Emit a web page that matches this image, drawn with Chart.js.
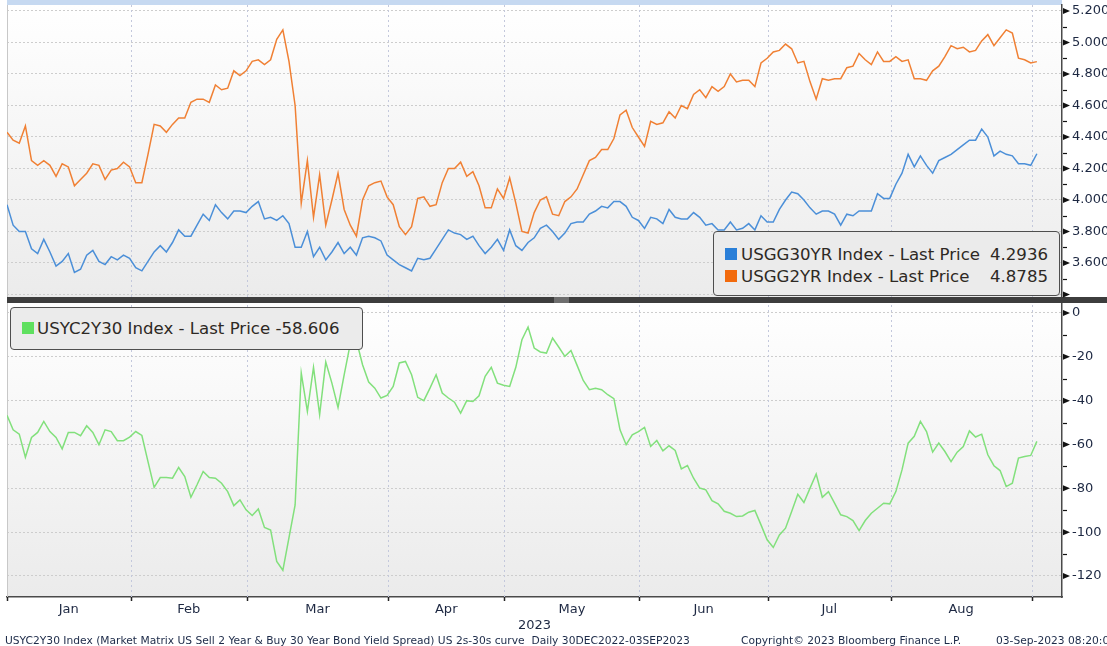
<!DOCTYPE html>
<html>
<head>
<meta charset="utf-8">
<title>USGG30YR / USGG2YR / USYC2Y30</title>
<script src="https://cdn.jsdelivr.net/npm/chart.js@4.4.0/dist/chart.umd.min.js"></script>
<style>
  body { margin: 0; background: #ffffff; }
  #wrap { position: relative; width: 1107px; height: 646px; overflow: hidden; font-family: "DejaVu Sans", sans-serif; }
  #chart { position: absolute; left: 0; top: 0; }
  .box { position: absolute; box-sizing: border-box; background: #ebebeb; border: 1.5px solid #4e4e4e; border-radius: 4px; }
  .sq { position: absolute; width: 12px; height: 12px; }
  .txt { position: absolute; font-size: 16.6px; line-height: 17px; color: #2e2924; white-space: pre; }
  .foot { position: absolute; top: 635px; font-size: 10.7px; line-height: 11px; color: #1c2a48; white-space: pre; }
</style>
</head>
<body>
<div id="wrap">
  <canvas id="chart" width="1107" height="646"></canvas>

  <div class="box" style="left:713px; top:231px; width:347px; height:65px;"></div>
  <div class="sq" style="left:725px; top:248px; background:#2a7fd8;"></div>
  <div class="txt" style="left:741px; top:246px;">USGG30YR Index - Last Price</div>
  <div class="txt" style="right:59px; top:246px;">4.2936</div>
  <div class="sq" style="left:725px; top:270px; background:#f26a0c;"></div>
  <div class="txt" style="left:741px; top:268px;">USGG2YR Index - Last Price</div>
  <div class="txt" style="right:59px; top:268px;">4.8785</div>

  <div class="box" style="left:10px; top:307px; width:353px; height:43px;"></div>
  <div class="sq" style="left:22px; top:322px; background:#5fe05f;"></div>
  <div class="txt" style="left:37px; top:320px;">USYC2Y30 Index - Last Price -58.606</div>

  <div class="foot" style="left:5px;">USYC2Y30 Index (Market Matrix US Sell 2 Year &amp; Buy 30 Year Bond Yield Spread) US 2s-30s curve  Daily 30DEC2022-03SEP2023</div>
  <div class="foot" style="left:741px;">Copyright© 2023 Bloomberg Finance L.P.</div>
  <div class="foot" style="left:996px;">03-Sep-2023 08:20:00</div>
</div>

<script>
// daily trading days, 30 Dec 2022 .. 01 Sep 2023 (index 0 = 30 Dec)
var monthNames = ['Jan', 'Feb', 'Mar', 'Apr', 'May', 'Jun', 'Jul', 'Aug'];
// index of first trading day of Feb .. Sep
var monthStarts = [21, 40, 63, 82, 104, 125, 145, 168];

var topTicks = [3.4, 3.6, 3.8, 4.0, 4.2, 4.4, 4.6, 4.8, 5.0, 5.2];
var botTicks = [0, -20, -40, -60, -80, -100, -120];

// USGG30YR Index
var usgg30 = [
  3.97, 3.84, 3.80, 3.80, 3.69, 3.66, 3.75, 3.67, 3.58, 3.61,
  3.66, 3.54, 3.56, 3.65, 3.68, 3.61, 3.59, 3.64, 3.62, 3.65,
  3.63, 3.57, 3.55, 3.61, 3.67, 3.71, 3.67, 3.73, 3.81, 3.77,
  3.77, 3.84, 3.91, 3.87, 3.97, 3.92, 3.88, 3.93, 3.93, 3.92,
  3.96, 3.99, 3.88, 3.89, 3.87, 3.90, 3.85, 3.70, 3.70, 3.80,
  3.64, 3.70, 3.62, 3.67, 3.73, 3.66, 3.70, 3.65, 3.76, 3.77,
  3.76, 3.74, 3.65, 3.62, 3.59, 3.57, 3.55, 3.63, 3.62, 3.63,
  3.69, 3.75, 3.81, 3.79, 3.78, 3.75, 3.77, 3.71, 3.66, 3.70,
  3.75, 3.68, 3.81, 3.71, 3.68, 3.73, 3.76, 3.82, 3.84, 3.80,
  3.75, 3.79, 3.85, 3.86, 3.86, 3.91, 3.93, 3.96, 3.95, 3.99,
  3.99, 3.96, 3.89, 3.87, 3.82, 3.89, 3.88, 3.85, 3.94, 3.89,
  3.88, 3.88, 3.92, 3.89, 3.84, 3.85, 3.81, 3.81, 3.86, 3.81,
  3.82, 3.85, 3.81, 3.90, 3.86, 3.86, 3.94, 4.00, 4.05, 4.04,
  4.00, 3.95, 3.91, 3.93, 3.93, 3.91, 3.84, 3.91, 3.90, 3.93,
  3.93, 3.93, 4.04, 4.01, 4.01, 4.10, 4.17, 4.29, 4.21, 4.28,
  4.22, 4.17, 4.25, 4.27, 4.29, 4.32, 4.35, 4.38, 4.38, 4.45,
  4.40, 4.28, 4.31, 4.29, 4.28, 4.23, 4.23, 4.22, 4.2936
];

// USGG2YR Index
var usgg2 = [
  4.43, 4.38, 4.36, 4.47, 4.25, 4.22, 4.25, 4.22, 4.15, 4.23,
  4.21, 4.09, 4.13, 4.17, 4.23, 4.22, 4.13, 4.19, 4.20, 4.24,
  4.21, 4.11, 4.11, 4.29, 4.48, 4.47, 4.43, 4.48, 4.52, 4.52,
  4.62, 4.64, 4.64, 4.62, 4.73, 4.70, 4.71, 4.82, 4.79, 4.82,
  4.88, 4.89, 4.86, 4.89, 5.02, 5.08, 4.88, 4.60, 3.98, 4.25,
  3.89, 4.16, 3.84, 4.00, 4.17, 3.94, 3.84, 3.77, 4.00, 4.09,
  4.11, 4.12, 4.02, 3.97, 3.83, 3.78, 3.83, 4.01, 4.02, 3.96,
  3.97, 4.11, 4.20, 4.20, 4.24, 4.15, 4.18, 4.09, 3.95, 3.95,
  4.07, 4.01, 4.14, 3.98, 3.80, 3.79, 3.92, 4.00, 4.02, 3.91,
  3.90, 3.99, 4.02, 4.07, 4.16, 4.25, 4.27, 4.32, 4.32, 4.39,
  4.54, 4.57, 4.46, 4.40, 4.34, 4.50, 4.48, 4.49, 4.56, 4.52,
  4.60, 4.58, 4.67, 4.70, 4.65, 4.72, 4.69, 4.72, 4.80, 4.75,
  4.76, 4.76, 4.72, 4.87, 4.90, 4.94, 4.95, 4.99, 4.96, 4.87,
  4.88, 4.75, 4.64, 4.77, 4.76, 4.77, 4.77, 4.84, 4.85, 4.93,
  4.89, 4.86, 4.94, 4.88, 4.88, 4.91, 4.88, 4.89, 4.77, 4.77,
  4.76, 4.82, 4.85, 4.91, 4.98, 4.96, 4.97, 4.94, 4.95, 5.01,
  5.05, 4.98, 5.03, 5.08, 5.06, 4.90, 4.89, 4.87, 4.8785
];

// USYC2Y30 Index (bp)
var usyc2y30 = [
  -46.7, -53.3, -55.3, -65.8, -56.8, -54.5, -49.5, -54.1, -56.8, -62.0,
  -54.5, -54.5, -56.0, -51.5, -54.5, -60.1, -53.3, -54.1, -58.3, -58.3,
  -56.6, -54.1, -55.9, -67.8, -79.6, -75.1, -75.1, -75.4, -70.5, -74.6,
  -84.1, -78.4, -72.3, -75.1, -75.4, -77.7, -81.5, -87.9, -85.3, -89.8,
  -92.4, -89.4, -97.9, -99.0, -113.4, -117.4, -102.5, -87.6, -27.4, -44.9,
  -24.8, -46.4, -22.4, -32.0, -43.1, -28.2, -14.0, -12.6, -23.6, -31.5,
  -34.3, -38.8, -37.6, -33.5, -22.8, -22.1, -28.2, -38.5, -40.0, -34.3,
  -28.2, -36.5, -38.8, -40.7, -45.7, -40.0, -40.4, -37.8, -28.9, -24.8,
  -32.0, -33.0, -33.5, -24.8, -12.2, -6.4, -16.0, -17.8, -18.3, -11.4,
  -15.5, -19.8, -17.1, -23.9, -30.8, -35.0, -34.3, -35.0, -37.3, -39.1,
  -53.3, -60.1, -55.6, -54.1, -52.2, -60.9, -58.2, -62.9, -60.6, -62.7,
  -71.1, -69.6, -75.4, -79.9, -80.7, -85.6, -87.1, -90.5, -91.4, -92.9,
  -92.6, -90.9, -90.1, -96.7, -103.5, -107.0, -101.3, -98.2, -90.6, -82.7,
  -86.5, -79.9, -73.5, -84.1, -81.5, -86.8, -92.1, -92.9, -94.7, -99.3,
  -94.7, -91.4, -89.1, -86.8, -87.1, -81.5, -71.6, -59.4, -56.3, -49.5,
  -54.1, -63.5, -59.4, -63.2, -67.8, -63.5, -60.9, -53.8, -56.6, -55.3,
  -64.7, -69.7, -71.9, -79.2, -77.7, -66.2, -65.5, -65.0, -58.606
];

var axisFont = { family: 'DejaVu Sans', size: 13 };
var axisColor = '#1d2842';

// month boundaries sit just before the first trading day of each month
var bounds = [0].concat(monthStarts.map(function(m) { return m - 0.85; }));
var monthMid = monthNames.map(function(n, i) { return (bounds[i] + bounds[i + 1]) / 2; });

function toPoints(arr) {
    return arr.map(function(v, i) { return { x: i, y: v }; });
}

// keep axis label overhang from shrinking the plot
function fixPadding(s) {
    s.paddingTop = 0;
    s.paddingBottom = 0;
    s.paddingLeft = 0;
    s.paddingRight = 0;
}

var panelPlugin = {
    id: 'panelPlugin',
    beforeDraw: function(chart) {
        var ctx = chart.ctx;
        var a = chart.chartArea;
        ['yTop', 'yBot'].forEach(function(id) {
            var s = chart.scales[id];
            var g = ctx.createLinearGradient(0, s.top, 0, s.bottom);
            g.addColorStop(0, '#ffffff');
            g.addColorStop(1, '#ebebeb');
            ctx.fillStyle = g;
            ctx.fillRect(a.left, s.top, a.right - a.left, s.bottom - s.top);
        });
        ctx.fillStyle = '#c6d9f1';
        ctx.fillRect(a.left, 0, a.right - a.left, a.top);
    },
    beforeDatasetsDraw: function(chart) {
        var ctx = chart.ctx;
        var a = chart.chartArea;
        var x = chart.scales.x;
        ctx.save();
        ctx.strokeStyle = '#c3c8dc';
        ctx.lineWidth = 1;
        ctx.setLineDash([2, 3]);
        bounds.slice(1).forEach(function(b) {
            var px = Math.round(x.getPixelForValue(b)) + 0.5;
            ctx.beginPath();
            ctx.moveTo(px, a.top);
            ctx.lineTo(px, a.bottom);
            ctx.stroke();
        });
        ctx.setLineDash([]);
        ctx.strokeStyle = '#c8c8c8';
        ctx.beginPath();
        ctx.moveTo(a.left + 0.5, a.top);
        ctx.lineTo(a.left + 0.5, a.bottom);
        ctx.stroke();
        ctx.restore();
    },
    afterDraw: function(chart) {
        var ctx = chart.ctx;
        var a = chart.chartArea;
        var x = chart.scales.x;
        var yb = chart.scales.yBot;
        ctx.save();

        // separator between the two panels
        ctx.fillStyle = '#3d3d3d';
        ctx.fillRect(a.left, yb.top - 3, chart.width - a.left, 6);
        ctx.fillStyle = '#6e6e6e';
        ctx.fillRect(554, yb.top - 3, 15, 6);

        // y axis markers: triangles on major ticks, dashes between
        ctx.fillStyle = '#111111';
        ctx.strokeStyle = '#111111';
        ctx.lineWidth = 1.2;
        ['yTop', 'yBot'].forEach(function(id) {
            var s = chart.scales[id];
            var vals = s.ticks.map(function(t) { return t.value; });
            vals.forEach(function(v, i) {
                var py = s.getPixelForValue(v);
                ctx.beginPath();
                ctx.moveTo(a.right + 1, py - 3);
                ctx.lineTo(a.right + 8, py);
                ctx.lineTo(a.right + 1, py + 3);
                ctx.closePath();
                ctx.fill();
                if (i < vals.length - 1) {
                    var pm = Math.round(s.getPixelForValue((v + vals[i + 1]) / 2)) + 0.5;
                    ctx.beginPath();
                    ctx.moveTo(a.right + 1, pm);
                    ctx.lineTo(a.right + 5, pm);
                    ctx.stroke();
                }
            });
        });

        // month boundary ticks under the x axis
        ctx.strokeStyle = '#222222';
        ctx.lineWidth = 1.5;
        bounds.forEach(function(b) {
            var px = Math.round(x.getPixelForValue(b)) + 0.5;
            ctx.beginPath();
            ctx.moveTo(px, a.bottom);
            ctx.lineTo(px, a.bottom + 4);
            ctx.stroke();
        });
        ctx.restore();
    }
};

var ctx = document.getElementById('chart').getContext('2d');
var chart = new Chart(ctx, {
    type: 'line',
    data: {
        datasets: [{
            label: 'USGG30YR Index',
            data: toPoints(usgg30),
            yAxisID: 'yTop',
            borderColor: '#4b8fd8',
            borderWidth: 1.5
        }, {
            label: 'USGG2YR Index',
            data: toPoints(usgg2),
            yAxisID: 'yTop',
            borderColor: '#f08034',
            borderWidth: 1.5
        }, {
            label: 'USYC2Y30 Index',
            data: toPoints(usyc2y30),
            yAxisID: 'yBot',
            borderColor: '#82e07c',
            borderWidth: 1.5
        }]
    },
    options: {
        responsive: false,
        animation: false,
        devicePixelRatio: 1,
        elements: { point: { radius: 0 }, line: { tension: 0 } },
        layout: { padding: { left: 7, top: 5, right: 0, bottom: 13 } },
        plugins: { legend: { display: false }, tooltip: { enabled: false } },
        scales: {
            yTop: {
                type: 'linear',
                position: 'right',
                stack: 'panels',
                stackWeight: 295,
                min: 3.365,
                max: 5.238,
                afterBuildTicks: function(s) {
                    s.ticks = topTicks.map(function(v) { return { value: v }; });
                },
                afterFit: function(s) { s.width = 45; fixPadding(s); },
                grid: { color: '#cdcdcd', lineWidth: 1, drawTicks: false },
                border: { color: '#4a4a4a', width: 1.5, dash: [2, 2] },
                ticks: {
                    autoSkip: false,
                    padding: 10,
                    color: axisColor,
                    font: axisFont,
                    callback: function(v) { return v < 3.5 ? '' : v.toFixed(4); }
                }
            },
            yBot: {
                type: 'linear',
                position: 'right',
                stack: 'panels',
                stackWeight: 297,
                min: -129.6,
                max: 5.93,
                afterBuildTicks: function(s) {
                    s.ticks = botTicks.map(function(v) { return { value: v }; });
                },
                afterFit: function(s) { s.width = 45; fixPadding(s); },
                grid: { color: '#cdcdcd', lineWidth: 1, drawTicks: false },
                border: { color: '#4a4a4a', width: 1.5, dash: [2, 2] },
                ticks: {
                    autoSkip: false,
                    padding: 10,
                    color: axisColor,
                    font: axisFont,
                    callback: function(v) { return String(v); }
                }
            },
            x: {
                type: 'linear',
                min: 0,
                max: 172.1,
                afterBuildTicks: function(s) {
                    s.ticks = monthMid.map(function(v) { return { value: v }; });
                },
                afterFit: function(s) { s.height = 36; fixPadding(s); },
                grid: { display: false, drawTicks: false },
                border: { display: true, color: '#4a4a4a', width: 1.5 },
                ticks: {
                    autoSkip: false,
                    maxRotation: 0,
                    padding: 5,
                    color: axisColor,
                    font: axisFont,
                    callback: function(v, i) { return monthNames[i]; }
                },
                title: { display: true, text: '2023', padding: 0, color: axisColor, font: axisFont }
            }
        }
    },
    plugins: [panelPlugin]
});
</script>
</body>
</html>
